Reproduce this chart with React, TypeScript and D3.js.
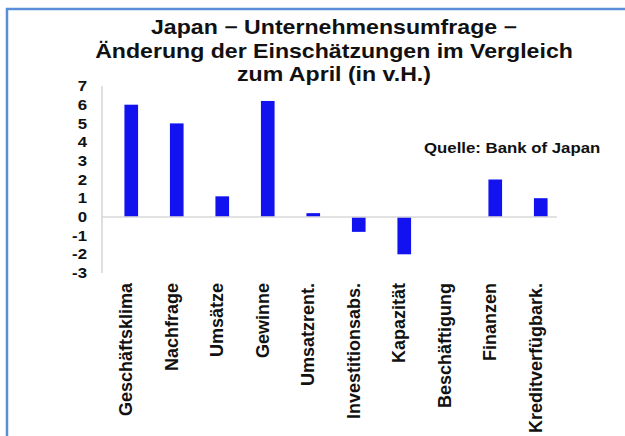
import * as d3 from 'd3';
import React from 'react';

const categories = [
  'Geschäftsklima', 'Nachfrage', 'Umsätze', 'Gewinne', 'Umsatzrent.',
  'Investitionsabs.', 'Kapazität', 'Beschäftigung', 'Finanzen', 'Kreditverfügbark.',
];
const values = [6.0, 5.0, 1.1, 6.2, 0.2, -0.8, -2.0, 0, 2.0, 1.0];
const yTicks = [7, 6, 5, 4, 3, 2, 1, 0, -1, -2, -3];
const titleLines = [
  'Japan − Unternehmensumfrage −',
  'Änderung der Einschätzungen im Vergleich',
  'zum April (in v.H.)',
];
const source = 'Quelle: Bank of Japan';

const W = 625, H = 436;
const font = '"Liberation Sans", Arial, sans-serif';

export default function App() {
  const x = d3.scaleBand<string>()
    .domain(categories)
    .range([108.5, 563.5])
    .paddingInner(0.7)
    .paddingOuter(0.35);
  const y = d3.scaleLinear().domain([-3, 7]).range([273, 86]);
  const axisX = 102;

  return (
    <svg width={W} height={H} style={{ position: 'fixed', left: 0, top: 0, background: '#fff' }}
      fontFamily={font}>
      {/* frame */}
      <line x1={7} x2={7} y1={8} y2={H} stroke="#5b8ed8" strokeWidth={2.5} />
      <line x1={6} x2={W} y1={9} y2={9} stroke="#5b8ed8" strokeWidth={2.5} />

      {/* title */}
      {titleLines.map((t, i) => (
        <text key={i} transform={`translate(334,${34 + i * 23.5}) scale(1.18,1)`}
          textAnchor="middle" fontSize={19.6} fontWeight="bold" fill="#111">{t}</text>
      ))}

      {/* y axis */}
      <line x1={axisX} x2={axisX} y1={y(7)} y2={y(-3)} stroke="#d4d4d4" strokeWidth={1.5} />
      {yTicks.map(t => (
        <text key={t} transform={`translate(87,${y(t)}) scale(1.12,1)`} textAnchor="end"
          dominantBaseline="central" fontSize={15} fontWeight="bold" fill="#111">{t}</text>
      ))}

      {/* bars */}
      {categories.map((c, i) => {
        const v = values[i];
        return (
          <rect key={c} x={x(c)} width={x.bandwidth()}
            y={y(Math.max(0, v))} height={Math.abs(y(v) - y(0))} fill="#1212f0" />
        );
      })}

      {/* zero line */}
      <line x1={axisX} x2={557} y1={y(0)} y2={y(0)} stroke="#d9d9d9" strokeWidth={1.5} />

      {/* category labels */}
      {categories.map(c => (
        <text key={c} transform={`translate(${(x(c) as number) + x.bandwidth() / 2 - 5},283) rotate(-90)`}
          textAnchor="end" dominantBaseline="central" fontSize={18} fontWeight="bold" fill="#111">{c}</text>
      ))}

      {/* source */}
      <text transform="translate(424,153) scale(1.12,1)" fontSize={15} fontWeight="bold" fill="#111">{source}</text>
    </svg>
  );
}
